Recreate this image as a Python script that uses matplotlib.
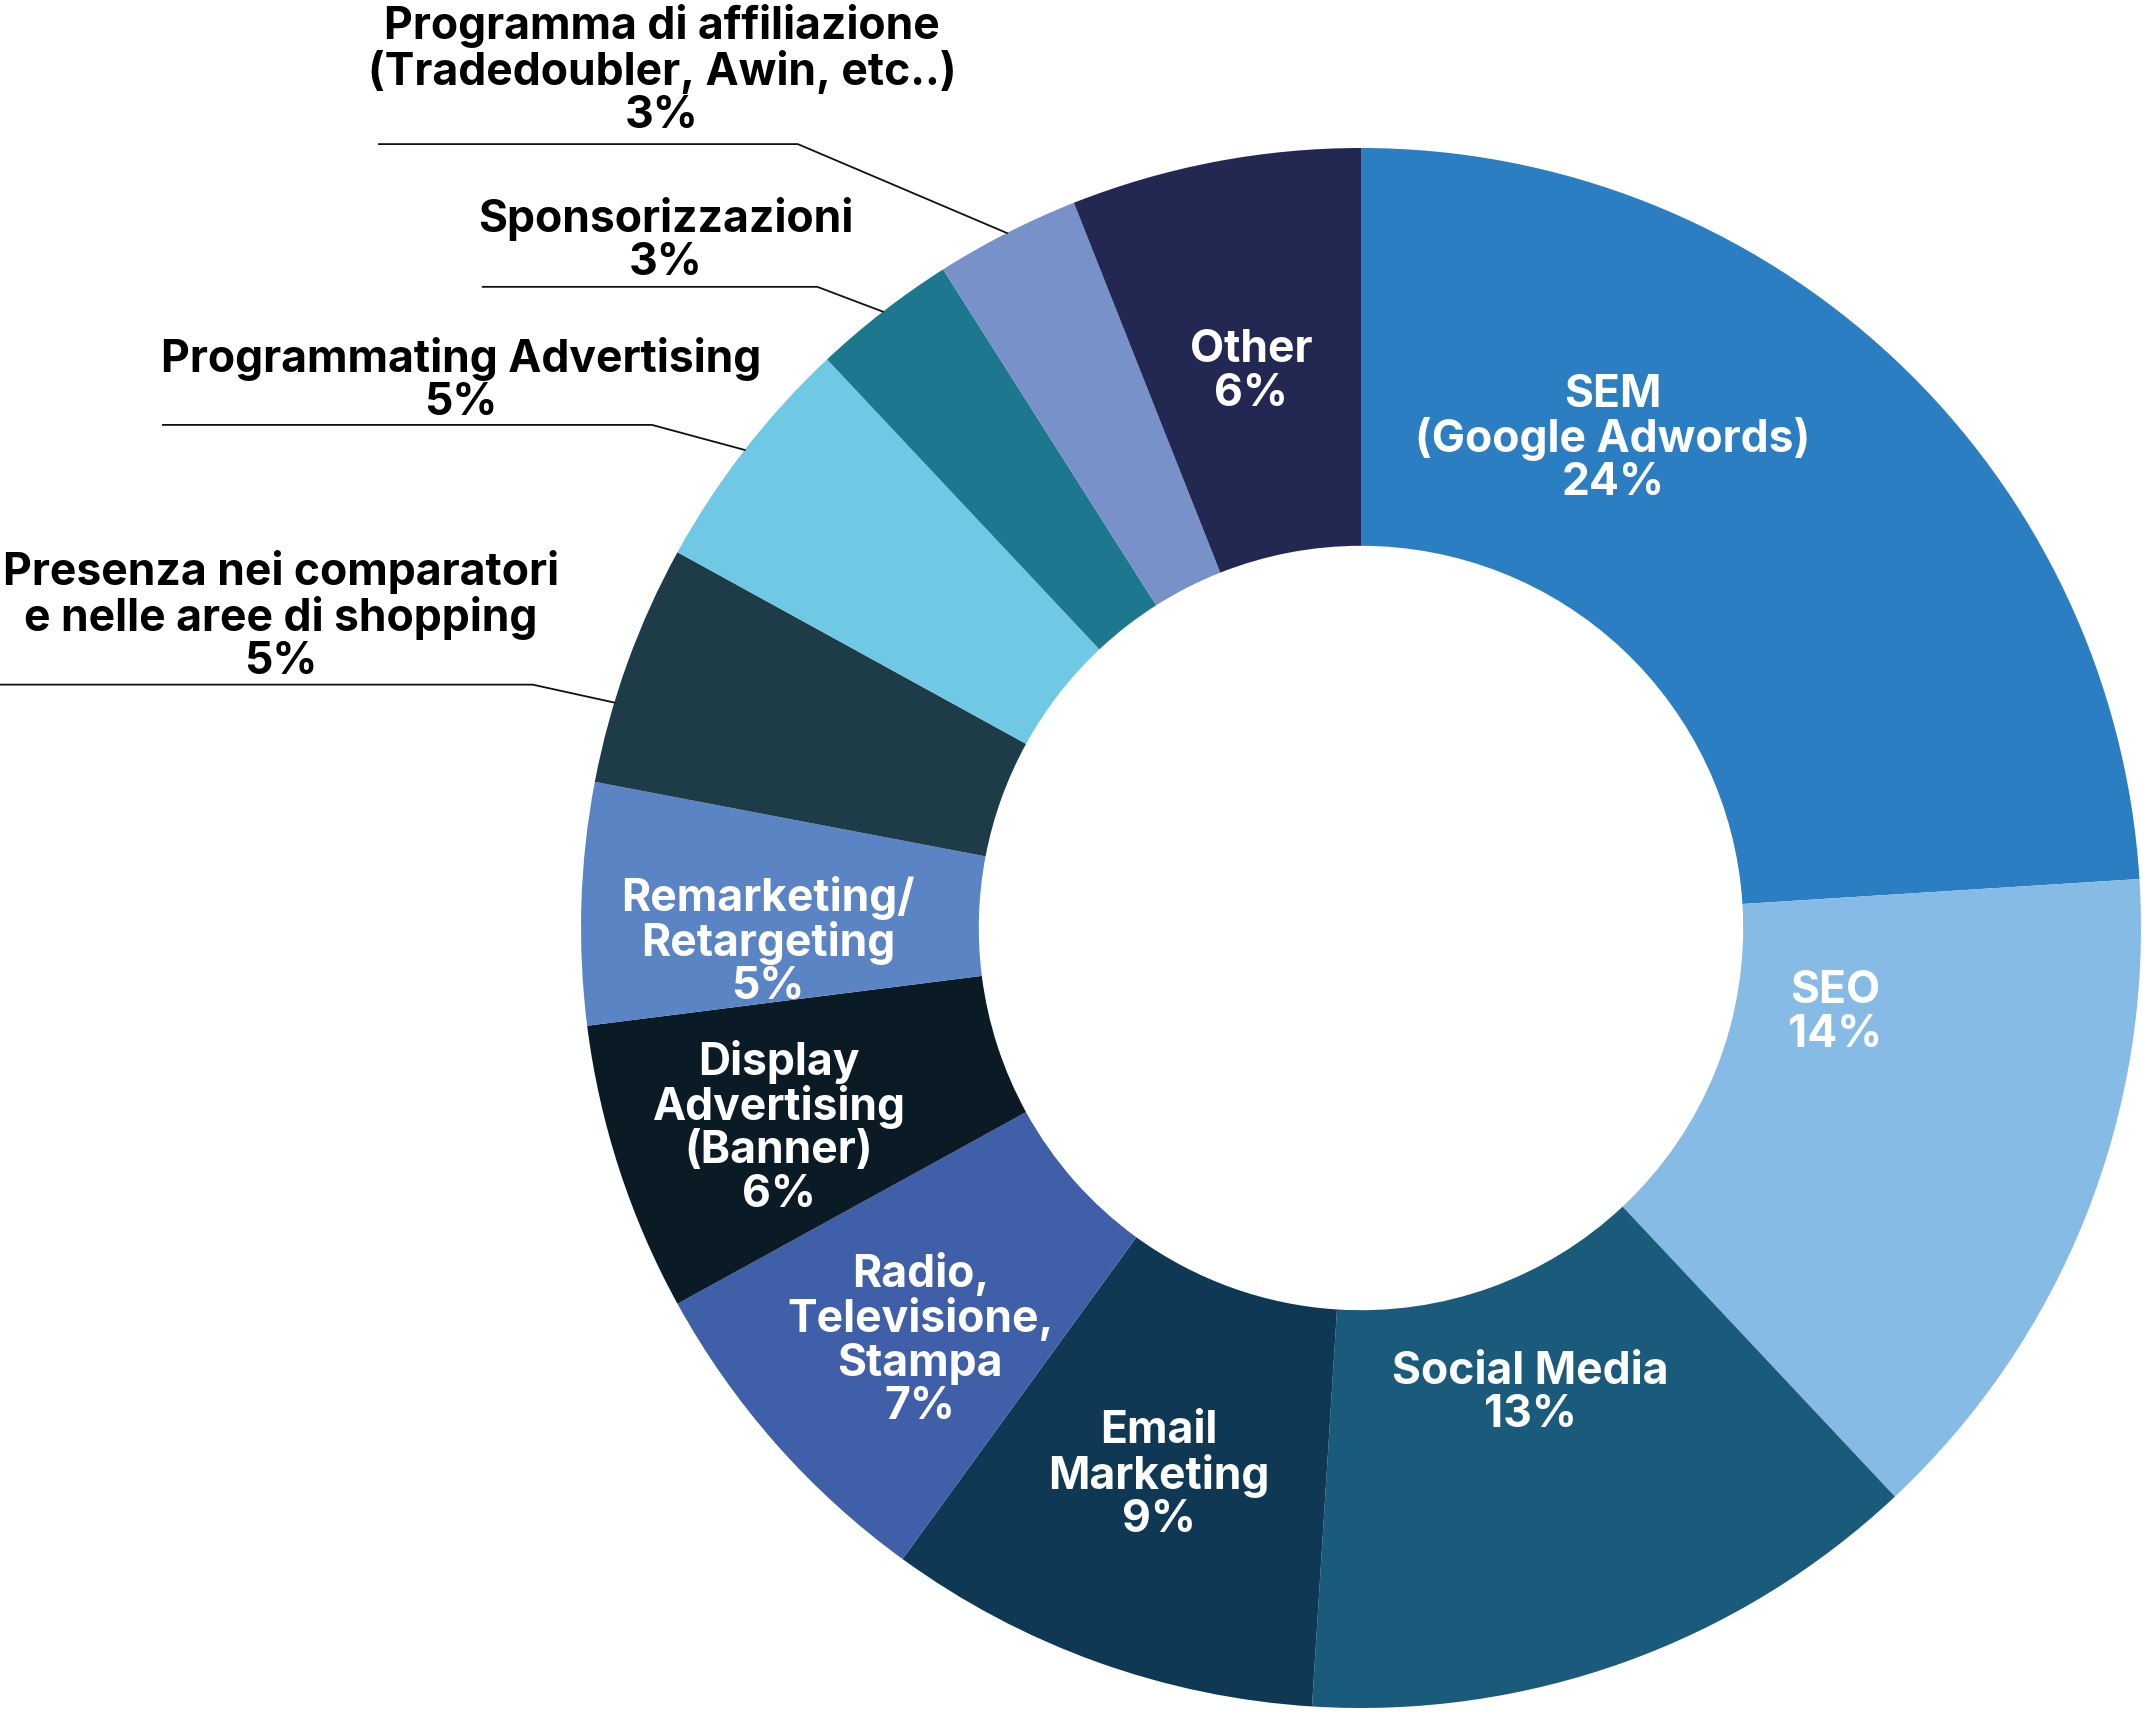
import numpy as np
import matplotlib.pyplot as plt

plt.rcParams['font.family'] = ['Inter', 'DejaVu Sans']

# dati della ciambella (ordine orario a partire dalle 12)
categorie = ["SEM\n(Google Adwords)", "SEO", "Social Media", "Email\nMarketing",
             "Radio,\nTelevisione,\nStampa", "Display\nAdvertising\n(Banner)",
             "Remarketing/\nRetargeting", "Presenza nei comparatori\ne nelle aree di shopping",
             "Programmating Advertising", "Sponsorizzazioni",
             "Programma di affiliazione\n(Tradedoubler, Awin, etc..)", "Other"]
valori = [24, 14, 13, 9, 7, 6, 5, 5, 5, 3, 3, 6]
colori = ["#2A7EC1", "#86BBE5", "#1A5A7B", "#0F3855", "#3F5FA8", "#0B1B26",
          "#5B84C4", "#1E3C48", "#6FC8E4", "#1D788F", "#7891C9", "#232853"]

# etichette interne: posizione (x, y) in coordinate dell'asse, None = etichetta esterna
pos_interne = [(0.323, 0.627), (0.608, -0.109), (0.217, -0.597), (-0.259, -0.702),
               (-0.565, -0.528), (-0.746, -0.256), (-0.760, -0.018),
               None, None, None, None, (-0.141, 0.713)]
# etichette esterne: scarto angolare del punto d'attacco, gomito, fine linea, centro testo
esterne = {
    7: (3.0, (-1.062, 0.312), -1.745, (-1.385, 0.399)),
    8: (0.0, (-0.909, 0.645), -1.536, (-1.154, 0.702)),
    9: (0.0, (-0.697, 0.822), -1.126, (-0.891, 0.881)),
    10: (0.0, (-0.722, 1.005), -1.259, (-0.896, 1.099)),
}

fig = plt.figure(figsize=(21.44, 17.12), dpi=100)
cx, cy, r_px = 1361 / 2144, 1 - 928 / 1712, 780
w, h = 2 * r_px / 2144, 2 * r_px / 1712
ax = fig.add_axes([cx - w / 2, cy - h / 2, w, h])

wedges, _ = ax.pie(valori, colors=colori, startangle=90, counterclock=False,
                   radius=1.0, wedgeprops=dict(width=0.51, linewidth=0))
ax.set_xlim(-1, 1)
ax.set_ylim(-1, 1)
ax.set_aspect('equal')
ax.axis('off')

for i, (cat, v) in enumerate(zip(categorie, valori)):
    testo = f"{cat}\n{v}%"
    if pos_interne[i] is not None:
        x, y = pos_interne[i]
        ax.text(x, y, testo, ha='center', va='center', color='white',
                fontsize=32, fontweight='bold', linespacing=1.04)
    else:
        wd = wedges[i]
        scarto, (ex, ey), fine, (tx, ty) = esterne[i]
        ang = np.deg2rad((wd.theta1 + wd.theta2) / 2 + scarto)
        px, py = np.cos(ang), np.sin(ang)
        ax.plot([px, ex, fine], [py, ey, ey], color='#111111', lw=1.3, clip_on=False)
        ax.text(tx, ty, testo, ha='center', va='center', color='black',
                fontsize=32, fontweight='bold', linespacing=1.04)

fig.savefig("out.png", dpi=100)
